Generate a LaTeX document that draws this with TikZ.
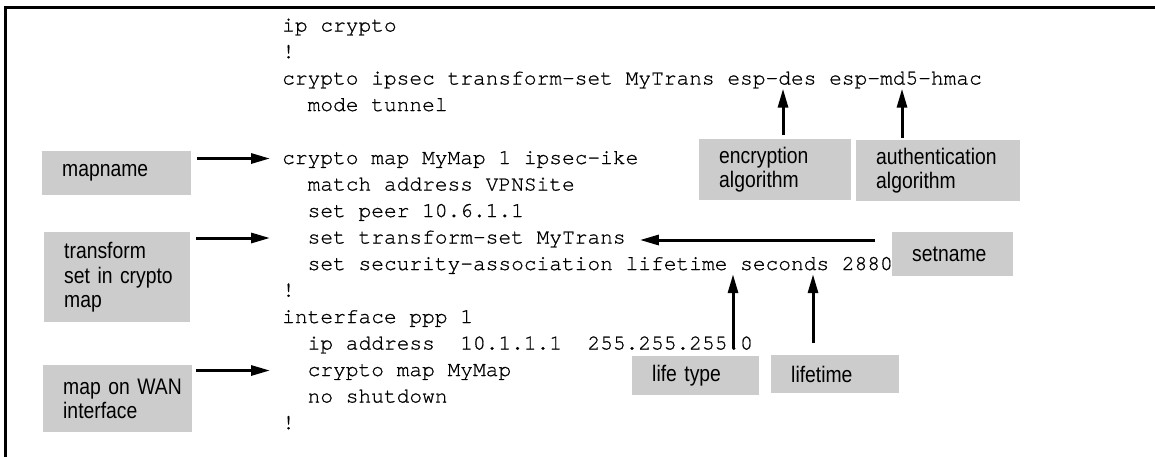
\documentclass[tikz,border=0pt]{standalone}
\usepackage{fontspec}
\usetikzlibrary{arrows.meta,calc}
\newfontfamily\codefont[FakeBold=0.8]{TeX Gyre Cursor}
\newfontfamily\tagfont[FakeStretch=0.86]{Liberation Sans}
\definecolor{tagfill}{RGB}{204,204,204}

\begin{document}
\begin{tikzpicture}[x=1pt,y=-1pt,
  code/.style={anchor=base west, inner sep=0pt,
    font=\codefont\fontsize{21.2}{26.5}\selectfont,
    text height=15pt, text depth=4pt},
  tag/.style={anchor=north west, fill=tagfill, inner xsep=20pt, inner ysep=0pt,
    align=left, font=\tagfont\fontsize{22.5}{24.5}\selectfont, text=black},
  arr/.style={line width=3pt, -{Triangle[length=19pt,width=10pt]}},
]
\useasboundingbox (0,0) rectangle (1155,456);

% open frame: left and top edges
\draw[line width=3.3pt, line join=miter] (5.7,470) -- (5.7,7.7) -- (1160,7.7);

% configuration listing
\node[code] (l0)  at (282,31.5)    {ip crypto};
\node[code] (l1)  at (282,58)      {!};
\node[code] (l2)  at (282,84.5)    {crypto ipsec transform-set MyTrans esp-des esp-md5-hmac};
\node[code] (l3)  at (307.46,111)  {mode tunnel};
\node[code] (l5)  at (282,164)     {crypto map MyMap 1 ipsec-ike};
\node[code] (l6)  at (307.46,190.5){match address VPNSite};
\node[code] (l7)  at (307.46,217)  {set peer 10.6.1.1};
\node[code] (l8)  at (307.46,243.5){set transform-set MyTrans};
\node[code] (l9)  at (307.46,270)  {set security-association lifetime seconds 2880};
\node[code] (l10) at (282,296.5)   {!};
\node[code] (l11) at (282,323)     {interface ppp 1};
\node[code] (l12) at (307.46,349.5){ip address~~10.1.1.1~~255.255.255.0};
\node[code] (l13) at (307.46,376)  {crypto map MyMap};
\node[code] (l14) at (307.46,402.5){no shutdown};
\node[code] (l15) at (282,429)     {!};

% callout boxes
\node[tag, minimum width=149pt, minimum height=43.5pt, text width=109pt] (mapname)  at (42,151)  {mapname};
\node[tag, minimum width=146pt, minimum height=90pt,   text width=106pt] (transform) at (44,232) {transform\\set~in~crypto\\map};
\node[tag, minimum width=149pt, minimum height=67pt,   text width=109pt] (wan)      at (43,365)  {map~on~WAN\\interface};
\node[tag, minimum width=152pt, minimum height=61pt,   text width=112pt] (enc)      at (699,139) {encryption\\algorithm};
\node[tag, minimum width=164pt, minimum height=61pt,   text width=124pt] (auth)     at (856,140) {authentication\\algorithm};
\node[tag, minimum width=121pt, minimum height=44pt,   text width=81pt]  (setname)  at (892,232) {setname};
\node[tag, minimum width=127pt, minimum height=39pt,   text width=87pt]  (lifetype) at (632,356) {life~type};
\node[tag, minimum width=128pt, minimum height=38pt,   text width=88pt]  (lifetime) at (771,355) {lifetime};

% arrow tip column left of the listing
\coordinate (tipcol) at (270,0);

% left-hand callouts
\draw[arr] ($(mapname.east |- l5.west)+(6,0)$)   -- (l5.west -| tipcol);
\draw[arr] ($(transform.east |- l8.west)+(6,0)$) -- (l8.west -| tipcol);
\draw[arr] ($(wan.east |- l13.west)+(4,0)$)      -- (l13.west -| tipcol);

% algorithm callouts
\coordinate (encx)  at ($(enc.north west)+(84,-4)$);
\coordinate (authx) at ($(auth.north west)+(46,-2)$);
\draw[arr] (encx)  -- (encx |- l2.south);
\draw[arr] (authx) -- (authx |- l2.south);

% set name callout
\coordinate (setx) at ($(setname.north west)+(-17,8)$);
\coordinate (sett) at ($(l8.east)+(14,0)$);
\draw[arr] (setx) -- (setx -| sett);

% lifetime callouts
\coordinate (ltx) at ($(lifetype.north west)+(101,-8)$);
\coordinate (lmx) at ($(lifetime.north west)+(42,-12)$);
\draw[arr] (ltx) -- (ltx |- l9.south);
\draw[arr] (lmx) -- (lmx |- l9.south);
\end{tikzpicture}
\end{document}
